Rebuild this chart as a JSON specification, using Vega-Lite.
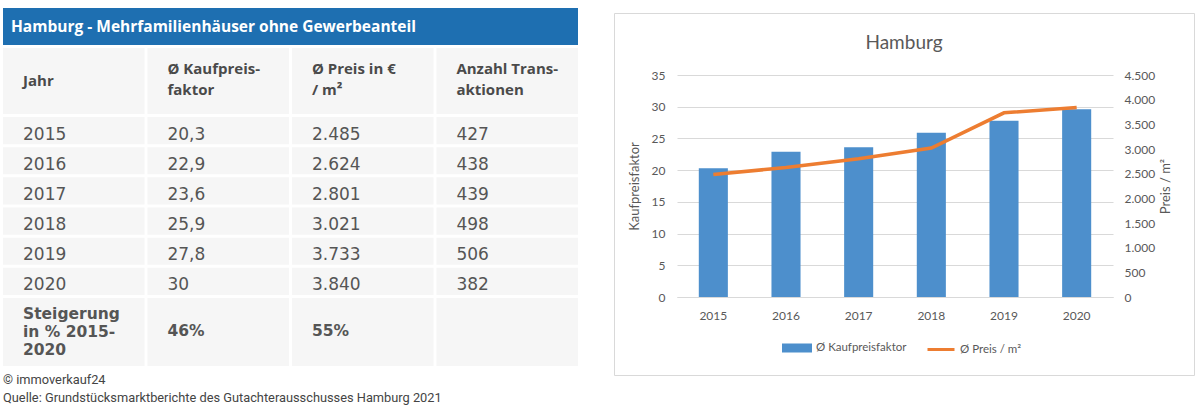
{
  "$schema": "https://vega.github.io/schema/vega-lite/v6.json",
  "background": "white",
  "padding": {"left": 3, "top": 8, "right": 0, "bottom": 0},
  "spacing": 35,
  "config": {
    "locale": {"number": {"decimal": ",", "thousands": ".", "grouping": [3], "currency": ["", " €"]}},
    "view": {"stroke": null}
  },
  "resolve": {"scale": {"color": "independent"}, "legend": {"color": "independent"}},
  "datasets": {
    "titel": [{"titel": "Hamburg - Mehrfamilienhäuser ohne Gewerbeanteil"}],
    "kopf": [
      {"key": "Jahr", "label": "Jahr"},
      {"key": "Kaufpreisfaktor", "label": "Ø Kaufpreis-\nfaktor"},
      {"key": "Preis", "label": "Ø Preis in €\n/ m²"},
      {"key": "Anzahl", "label": "Anzahl Trans-\naktionen"}
    ],
    "tabelle": [
      {"Jahr": "2015", "Kaufpreisfaktor": "20,3", "Preis": "2.485", "Anzahl": "427"},
      {"Jahr": "2016", "Kaufpreisfaktor": "22,9", "Preis": "2.624", "Anzahl": "438"},
      {"Jahr": "2017", "Kaufpreisfaktor": "23,6", "Preis": "2.801", "Anzahl": "439"},
      {"Jahr": "2018", "Kaufpreisfaktor": "25,9", "Preis": "3.021", "Anzahl": "498"},
      {"Jahr": "2019", "Kaufpreisfaktor": "27,8", "Preis": "3.733", "Anzahl": "506"},
      {"Jahr": "2020", "Kaufpreisfaktor": "30", "Preis": "3.840", "Anzahl": "382"}
    ],
    "steigerung": [
      {"Jahr": "Steigerung\nin % 2015-\n2020", "Kaufpreisfaktor": "46%", "Preis": "55%", "Anzahl": ""}
    ],
    "chart": [
      {"Jahr": "2015", "Kaufpreisfaktor": 20.3, "Preis": 2485},
      {"Jahr": "2016", "Kaufpreisfaktor": 22.9, "Preis": 2624},
      {"Jahr": "2017", "Kaufpreisfaktor": 23.6, "Preis": 2801},
      {"Jahr": "2018", "Kaufpreisfaktor": 25.9, "Preis": 3021},
      {"Jahr": "2019", "Kaufpreisfaktor": 27.8, "Preis": 3733},
      {"Jahr": "2020", "Kaufpreisfaktor": 29.6, "Preis": 3840}
    ]
  },
  "hconcat": [
    {
      "spacing": 3,
      "title": {
        "text": ["© immoverkauf24", "Quelle: Grundstücksmarktberichte des Gutachterausschusses Hamburg 2021"],
        "orient": "bottom", "anchor": "start", "font": "Roboto", "fontSize": 12.8, "fontWeight": "normal",
        "color": "#444444", "lineHeight": 18, "offset": 8
      },
      "vconcat": [
        {
          "width": 575, "height": 37,
          "data": {"name": "titel"},
          "view": {"fill": "#1e6fb1", "stroke": null},
          "mark": {"type": "text", "align": "left", "baseline": "middle", "dx": 8, "font": "Open Sans", "fontSize": 15.5, "fontWeight": "bold", "color": "white"},
          "encoding": {
            "x": {"field": "titel", "type": "nominal", "axis": null, "bandPosition": 0, "scale": {"type": "band", "paddingInner": 0, "paddingOuter": 0}},
            "text": {"field": "titel"}
          }
        },
        {
          "width": 575, "height": 66,
          "data": {"name": "kopf"},
          "layer": [
            {
              "mark": {"type": "rect", "color": "#f6f6f6"},
              "encoding": {
                "x": {"field": "key", "type": "nominal", "sort": ["Jahr", "Kaufpreisfaktor", "Preis", "Anzahl"], "axis": null, "scale": {"type": "band", "paddingInner": 0.02, "paddingOuter": 0}}
              }
            },
            {
              "transform": [{"filter": "datum.key === 'Jahr'"}],
              "mark": {"type": "text", "align": "left", "baseline": "middle", "dx": 20, "dy": 0, "font": "Open Sans", "fontWeight": "bold", "fontSize": 15, "color": "#4a4a4a"},
              "encoding": {
                "x": {"field": "key", "type": "nominal", "sort": ["Jahr", "Kaufpreisfaktor", "Preis", "Anzahl"], "axis": null, "bandPosition": 0},
                "text": {"field": "label"}
              }
            },
            {
              "transform": [{"filter": "datum.key !== 'Jahr'"}],
              "mark": {"type": "text", "align": "left", "baseline": "middle", "dx": 20, "dy": -12.5, "lineBreak": "\n", "font": "Open Sans", "fontWeight": "bold", "fontSize": 15, "color": "#4a4a4a", "lineHeight": 21},
              "encoding": {
                "x": {"field": "key", "type": "nominal", "sort": ["Jahr", "Kaufpreisfaktor", "Preis", "Anzahl"], "axis": null, "bandPosition": 0},
                "text": {"field": "label"}
              }
            }
          ]
        },
        {
          "width": 575, "height": 178,
          "data": {"name": "tabelle"},
          "transform": [{"fold": ["Jahr", "Kaufpreisfaktor", "Preis", "Anzahl"], "as": ["key", "value"]}],
          "layer": [
            {
              "mark": {"type": "rect", "color": "#f6f6f6"},
              "encoding": {
                "x": {"field": "key", "type": "nominal", "sort": ["Jahr", "Kaufpreisfaktor", "Preis", "Anzahl"], "axis": null, "scale": {"type": "band", "paddingInner": 0.02, "paddingOuter": 0}},
                "y": {"field": "Jahr", "type": "ordinal", "axis": null, "scale": {"type": "band", "paddingInner": 0.1, "paddingOuter": 0}}
              }
            },
            {
              "mark": {"type": "text", "align": "left", "baseline": "middle", "dx": 20, "dy": 4, "font": "DejaVu Sans", "fontSize": 17, "color": "#555555"},
              "encoding": {
                "x": {"field": "key", "type": "nominal", "sort": ["Jahr", "Kaufpreisfaktor", "Preis", "Anzahl"], "axis": null, "bandPosition": 0},
                "y": {"field": "Jahr", "type": "ordinal", "axis": null, "bandPosition": 0.5},
                "text": {"field": "value"}
              }
            }
          ]
        },
        {
          "width": 575, "height": 68,
          "data": {"name": "steigerung"},
          "transform": [{"fold": ["Jahr", "Kaufpreisfaktor", "Preis", "Anzahl"], "as": ["key", "value"]}],
          "layer": [
            {
              "mark": {"type": "rect", "color": "#f6f6f6"},
              "encoding": {
                "x": {"field": "key", "type": "nominal", "sort": ["Jahr", "Kaufpreisfaktor", "Preis", "Anzahl"], "axis": null, "scale": {"type": "band", "paddingInner": 0.02, "paddingOuter": 0}}
              }
            },
            {
              "transform": [{"filter": "datum.key === 'Jahr'"}],
              "mark": {"type": "text", "align": "left", "baseline": "middle", "dx": 20, "dy": -18, "lineBreak": "\n", "font": "DejaVu Sans", "fontWeight": "bold", "fontSize": 15.5, "color": "#555555", "lineHeight": 18},
              "encoding": {
                "x": {"field": "key", "type": "nominal", "sort": ["Jahr", "Kaufpreisfaktor", "Preis", "Anzahl"], "axis": null, "bandPosition": 0},
                "text": {"field": "value"}
              }
            },
            {
              "transform": [{"filter": "datum.key !== 'Jahr'"}],
              "mark": {"type": "text", "align": "left", "baseline": "middle", "dx": 20, "dy": -1, "font": "DejaVu Sans", "fontWeight": "bold", "fontSize": 15.5, "color": "#555555"},
              "encoding": {
                "x": {"field": "key", "type": "nominal", "sort": ["Jahr", "Kaufpreisfaktor", "Preis", "Anzahl"], "axis": null, "bandPosition": 0},
                "text": {"field": "value"}
              }
            }
          ]
        }
      ]
    },
    {
      "spacing": 0,
      "resolve": {"scale": {"color": "independent"}, "legend": {"color": "independent"}},
      "vconcat": [
        {
          "width": 580, "height": 4,
          "data": {"values": [{}]},
          "mark": {"type": "rect", "opacity": 0}
        },
        {
          "width": 580, "height": 362,
          "view": {"stroke": "#d9d9d9", "strokeWidth": 1},
          "title": {"text": "Hamburg", "font": "Lato", "fontSize": 19, "fontWeight": "normal", "color": "#595959", "anchor": "middle", "baseline": "middle", "offset": -49},
          "data": {"name": "chart"},
          "layer": [
            {
              "mark": {"type": "bar", "width": {"band": 0.4}},
              "encoding": {
                "x": {"field": "Jahr", "type": "ordinal", "scale": {"type": "band", "paddingInner": 0, "paddingOuter": 0, "range": [63, 499]},
                  "axis": {"title": null, "labelAngle": 0, "ticks": false, "domainColor": "#d9d9d9", "labelPadding": 13, "labelFont": "Lato", "labelFontSize": 12, "labelColor": "#595959", "offset": -78}},
                "y": {"field": "Kaufpreisfaktor", "type": "quantitative", "scale": {"domain": [0, 35], "range": [284, 62]},
                  "axis": {"title": "Kaufpreisfaktor", "values": [0, 5, 10, 15, 20, 25, 30, 35], "grid": true, "gridColor": "#d9d9d9", "domain": false, "ticks": false,
                    "labelPadding": 12, "labelFont": "Lato", "labelFontSize": 12, "labelColor": "#595959", "minExtent": 25, "maxExtent": 25, "offset": -63,
                    "titleFont": "Lato", "titleFontSize": 13, "titleFontWeight": "normal", "titleColor": "#595959", "titlePadding": 11}},
                "color": {"datum": "Ø Kaufpreisfaktor", "type": "nominal",
                  "scale": {"domain": ["Ø Kaufpreisfaktor", "Ø Preis / m²"], "range": ["#4d8fcc", "#ed7d31"]},
                  "legend": {"title": null, "orient": "none", "legendX": 168, "legendY": 320, "direction": "horizontal",
                    "labelFont": "Lato", "labelFontSize": 11.5, "labelColor": "#595959", "symbolSize": 729, "labelOffset": 4, "columnPadding": 14,
                    "encode": {"symbols": {"update": {
                      "shape": {"signal": "datum.value === 'Ø Preis / m²' ? 'M-1,0H1' : 'M-1,-0.22H1V0.22H-1Z'"},
                      "fill": {"signal": "datum.value === 'Ø Preis / m²' ? 'transparent' : '#4d8fcc'"},
                      "stroke": {"signal": "datum.value === 'Ø Preis / m²' ? '#ed7d31' : 'transparent'"},
                      "strokeWidth": {"value": 3},
                      "opacity": {"value": 1}
                    }}}}}
              }
            },
            {
              "mark": {"type": "line", "strokeWidth": 3.5},
              "encoding": {
                "x": {"field": "Jahr", "type": "ordinal", "bandPosition": 0.5},
                "y": {"field": "Preis", "type": "quantitative", "scale": {"domain": [0, 4500], "range": [284, 62]},
                  "axis": {"orient": "right", "title": "Preis / m²", "values": [0, 500, 1000, 1500, 2000, 2500, 3000, 3500, 4000, 4500], "format": ",d",
                    "grid": false, "domain": false, "ticks": false, "labelPadding": 11, "labelFont": "Lato", "labelFontSize": 12, "labelColor": "#595959",
                    "minExtent": 38, "maxExtent": 38, "offset": -81, "titleFont": "Lato", "titleFontSize": 13, "titleFontWeight": "normal", "titleColor": "#595959",
                    "titlePadding": 8, "titleAngle": 270, "titleBaseline": "top"}},
                "color": {"datum": "Ø Preis / m²", "type": "nominal"}
              }
            }
          ],
          "resolve": {"scale": {"y": "independent"}}
        }
      ]
    }
  ]
}
